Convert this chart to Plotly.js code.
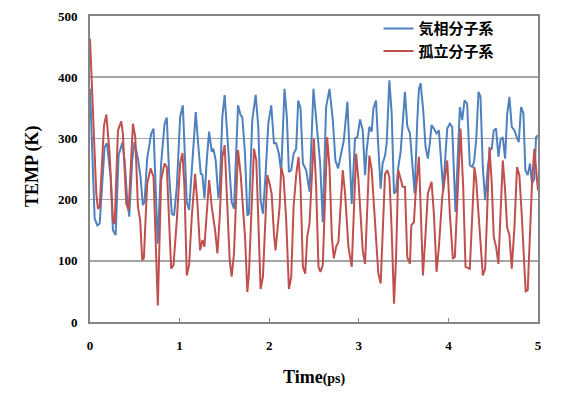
<!DOCTYPE html>
<html>
<head>
<meta charset="utf-8">
<script src="https://cdn.plot.ly/plotly-3.0.1.min.js"></script>
<style>
html,body{margin:0;padding:0;background:#fff;}
#chart{width:568px;height:393px;}
</style>
</head>
<body>
<div id="chart"></div>
<script>
// Series names
const seriesNames = ["気相分子系", "孤立分子系"];

// 気相分子系 (blue)
const gasTime = [
 0.000,0.052,0.082,0.108,0.163,0.189,0.230,0.256,0.286,0.319,
 0.360,0.386,0.416,0.438,0.471,0.497,0.535,0.564,0.590,0.609,
 0.638,0.683,0.709,0.755,0.794,0.832,0.857,0.883,0.913,0.938,
 0.969,1.006,1.036,1.062,1.080,1.106,1.143,1.180,1.210,1.236,
 1.254,1.277,1.303,1.329,1.359,1.377,1.403,1.433,1.448,1.477,
 1.503,1.533,1.559,1.581,1.607,1.652,1.681,1.700,1.730,1.756,
 1.774,1.811,1.849,1.878,1.904,1.930,1.960,1.990,2.023,2.053,
 2.078,2.108,2.134,2.171,2.197,2.220,2.246,2.272,2.301,2.324,
 2.350,2.376,2.413,2.450,2.494,2.543,2.569,2.598,2.635,2.673,
 2.710,2.739,2.769,2.802,2.832,2.873,2.895,2.921,2.958,2.984,
 3.014,3.044,3.070,3.088,3.118,3.144,3.163,3.192,3.218,3.244,
 3.266,3.293,3.311,3.341,3.367,3.393,3.415,3.441,3.467,3.489,
 3.515,3.541,3.571,3.597,3.623,3.653,3.671,3.690,3.719,3.745,
 3.771,3.794,3.812,3.838,3.868,3.894,3.912,3.942,3.968,3.987,
 4.016,4.042,4.079,4.098,4.128,4.154,4.180,4.209,4.239,4.269,
 4.288,4.310,4.336,4.358,4.384,4.410,4.440,4.465,4.484,4.506,
 4.532,4.558,4.581,4.607,4.633,4.655,4.681,4.707,4.737,4.762,
 4.785,4.811,4.837,4.859,4.885,4.911,4.933,4.959,4.978,5.000
];
const gasTemp = [
 381,169,158,161,286,292,237,150,142,272,
 293,264,199,172,264,294,267,237,191,196,
 267,308,316,128,259,324,334,242,177,174,
 221,335,354,275,196,183,264,343,286,242,
 241,202,264,311,278,283,264,202,221,335,
 371,302,237,196,185,354,338,335,275,174,
 177,330,371,319,199,177,242,324,354,292,
 292,275,245,381,335,245,248,275,283,362,
 349,259,248,213,381,302,259,163,351,381,
 330,264,251,275,296,360,286,193,300,302,
 331,313,240,281,319,311,349,362,286,218,
 259,272,292,395,341,210,213,253,278,330,
 376,320,308,259,210,330,381,390,346,286,
 267,294,322,316,308,313,275,215,275,316,
 324,319,180,253,351,330,362,357,256,253,
 264,297,376,368,253,199,253,281,283,313,
 316,270,297,302,267,338,368,319,313,302,
 294,351,341,248,240,259,226,234,302,305
];

// 孤立分子系 (red)
const isoTime = [
 0.000,0.070,0.089,0.108,0.156,0.182,0.219,0.256,0.275,0.312,
 0.349,0.367,0.405,0.431,0.479,0.505,0.535,0.560,0.583,0.601,
 0.638,0.676,0.709,0.735,0.757,0.794,0.832,0.857,0.883,0.906,
 0.932,0.969,1.006,1.032,1.054,1.080,1.106,1.136,1.173,1.199,
 1.229,1.254,1.277,1.303,1.329,1.359,1.396,1.422,1.448,1.477,
 1.503,1.533,1.559,1.581,1.607,1.652,1.681,1.730,1.756,1.774,
 1.811,1.830,1.856,1.878,1.904,1.930,1.960,1.979,2.004,2.027,
 2.053,2.071,2.116,2.134,2.160,2.190,2.220,2.246,2.272,2.301,
 2.327,2.350,2.376,2.402,2.424,2.450,2.498,2.524,2.550,2.572,
 2.598,2.647,2.673,2.699,2.721,2.747,2.773,2.821,2.847,2.866,
 2.884,2.921,2.970,2.996,3.021,3.044,3.070,3.118,3.144,3.170,
 3.192,3.218,3.244,3.266,3.293,3.318,3.341,3.367,3.393,3.415,
 3.441,3.467,3.489,3.515,3.541,3.571,3.586,3.615,3.634,3.671,
 3.690,3.716,3.745,3.771,3.812,3.838,3.868,3.894,3.931,3.987,
 4.016,4.050,4.072,4.135,4.165,4.191,4.239,4.269,4.291,4.310,
 4.347,4.384,4.410,4.458,4.484,4.506,4.532,4.558,4.607,4.633,
 4.655,4.681,4.707,4.737,4.766,4.792,4.818,4.848,4.862,4.885,
 4.911,4.933,4.959,4.978,5.000
];
const isoTemp = [
 463,210,185,188,321,339,275,166,160,313,
 328,308,193,183,324,302,188,166,101,104,
 226,251,237,112,27,232,259,253,166,87,
 93,166,259,276,221,76,93,172,242,193,
 117,134,123,180,232,188,150,112,172,270,
 289,188,101,74,112,281,242,139,49,79,
 232,283,264,166,54,74,188,240,226,210,
 144,117,188,253,237,166,54,74,188,240,
 270,221,90,79,139,161,300,221,90,82,
 93,302,253,139,104,123,131,248,210,155,
 123,90,275,232,166,117,95,272,248,193,
 139,79,63,155,242,248,237,150,30,101,
 248,234,221,221,106,95,158,163,210,270,
 193,76,144,210,229,177,82,123,204,264,
 177,104,106,316,221,90,87,188,253,232,
 155,76,87,286,226,139,123,95,264,215,
 155,142,87,155,253,240,177,101,50,52,
 155,226,283,251,215
];

// Axis ticks
const xTicks = [0, 1, 2, 3, 4, 5];
const yTicks = [0, 100, 200, 300, 400, 500];

const serif = {family: "'Liberation Serif', 'Times New Roman', serif", size: 13, color: '#000', weight: 'bold'};

const traces = [
  {x: gasTime, y: gasTemp, name: seriesNames[0], type: 'scatter', mode: 'lines',
   line: {color: '#4F81BD', width: 2}},
  {x: isoTime, y: isoTemp, name: seriesNames[1], type: 'scatter', mode: 'lines',
   line: {color: '#C0504D', width: 2}}
];

const layout = {
  width: 568, height: 393,
  margin: {l: 90, r: 30, t: 16, b: 71},
  paper_bgcolor: '#fff', plot_bgcolor: '#fff',
  showlegend: true,
  legend: {
    x: 0.644, y: 1.012, xanchor: 'left', yanchor: 'top',
    bgcolor: 'rgba(0,0,0,0)', borderwidth: 0,
    font: {family: "'Noto Sans CJK JP', sans-serif", size: 15, color: '#000', weight: 'bold'},
    tracegroupgap: 0
  },
  xaxis: {
    range: [0, 5], tickvals: xTicks, ticktext: xTicks.map(String),
    showgrid: false, zeroline: false,
    showline: true, mirror: true, linecolor: '#858585', linewidth: 2,
    ticks: 'inside', ticklen: 4, tickcolor: '#858585', tickwidth: 1,
    tickfont: serif, ticklabelstandoff: 10,
    fixedrange: true
  },
  yaxis: {
    range: [0, 500], tickvals: yTicks, ticktext: yTicks.map(String),
    showgrid: true, gridcolor: '#a6a6a6', gridwidth: 1.5,
    zeroline: false,
    showline: true, mirror: true, linecolor: '#858585', linewidth: 2,
    ticks: '', tickfont: serif, ticklabelstandoff: 8,
    fixedrange: true
  },
  annotations: [
    {text: 'Time<span style="font-size:14px">(ps)</span>', xref: 'paper', yref: 'paper',
     x: 0.5, y: 0, xanchor: 'center', yanchor: 'middle', yshift: -55, showarrow: false,
     font: {family: "'Liberation Serif', 'Times New Roman', serif", size: 18, color: '#000', weight: 'bold'}},
    {text: 'TEMP (K)', xref: 'paper', yref: 'paper', textangle: -90,
     x: 0, y: 0.51, xanchor: 'center', yanchor: 'middle', xshift: -57, showarrow: false,
     font: {family: "'Liberation Serif', 'Times New Roman', serif", size: 18, color: '#000', weight: 'bold'}}
  ]
};

Plotly.newPlot('chart', traces, layout, {displayModeBar: false, staticPlot: true});
</script>
</body>
</html>
